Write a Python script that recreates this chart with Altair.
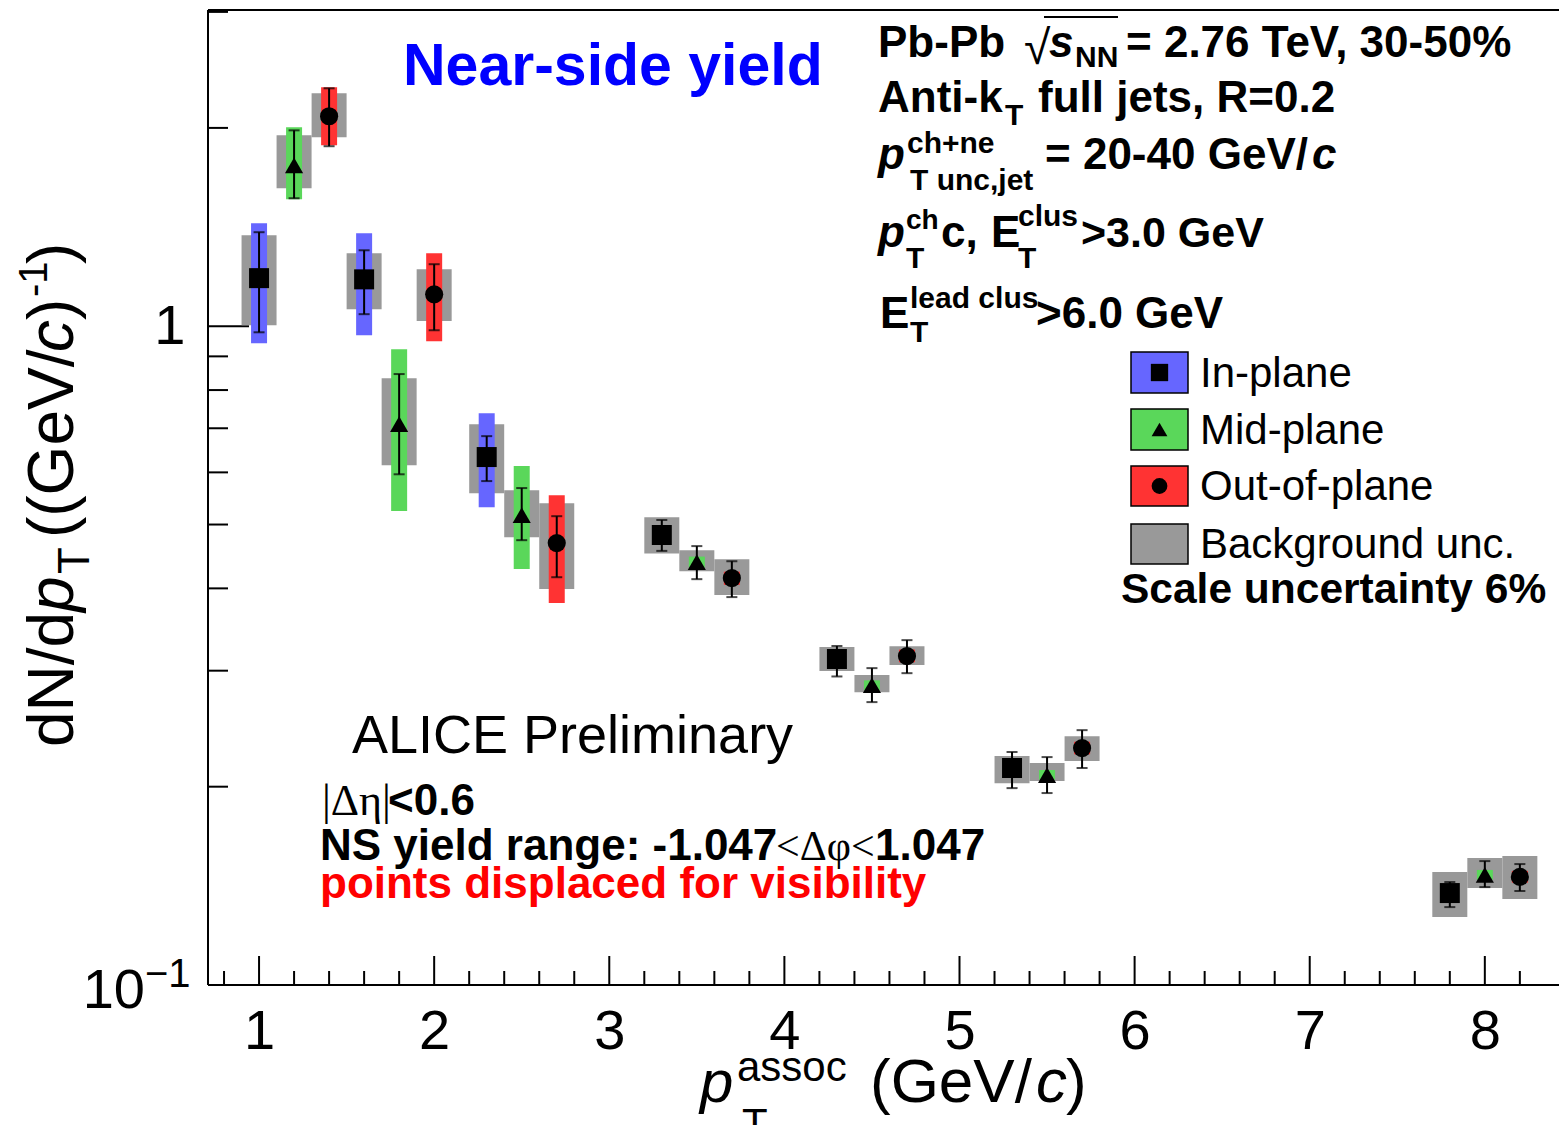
import altair as alt
import pandas as pd

# ---------------- data ----------------
series = ["In-plane", "Mid-plane", "Out-of-plane"]
series_colors = ["#6666ff", "#5ad75a", "#ff3333"]
series_shapes = ["square", "triangle-up", "circle"]
series_sizes = [400, 330, 330]
bkg_color = "#999999"

x_in = [1.0, 1.6, 2.3, 3.3, 4.3, 5.3, 7.8]
y_in = [1.183, 1.178, 0.633, 0.482, 0.3125, 0.2135, 0.1379]
stat_lo_in = [0.979, 1.043, 0.582, 0.456, 0.294, 0.199, 0.1313]
stat_hi_in = [1.389, 1.304, 0.681, 0.508, 0.327, 0.2258, 0.1433]
sys_lo_in = [0.942, 0.969, 0.531, 0.474, 0.308, 0.210, 0.136]
sys_hi_in = [1.433, 1.384, 0.738, 0.490, 0.317, 0.217, 0.140]
bkg_lo_in = [1.003, 1.061, 0.558, 0.452, 0.2996, 0.2025, 0.1268]
bkg_hi_in = [1.374, 1.290, 0.710, 0.513, 0.326, 0.2227, 0.1484]

x_mid = [1.2, 1.8, 2.5, 3.5, 4.5, 5.5, 8.0]
y_mid = [1.755, 0.710, 0.5166, 0.4384, 0.2851, 0.2083, 0.1469]
stat_lo_mid = [1.564, 0.596, 0.4734, 0.4131, 0.2688, 0.1956, 0.1408]
stat_hi_mid = [1.983, 0.846, 0.568, 0.4637, 0.3027, 0.2218, 0.1542]
sys_lo_mid = [1.559, 0.524, 0.4279, 0.430, 0.280, 0.205, 0.1445]
sys_hi_mid = [2.004, 0.923, 0.6133, 0.447, 0.290, 0.212, 0.1495]
bkg_lo_mid = [1.620, 0.615, 0.4784, 0.4248, 0.2783, 0.2040, 0.1404]
bkg_hi_mid = [1.949, 0.834, 0.5638, 0.4572, 0.2954, 0.2172, 0.1559]

x_out = [1.4, 2.0, 2.7, 3.7, 4.7, 5.7, 8.2]
y_out = [2.083, 1.118, 0.4686, 0.4146, 0.3157, 0.2289, 0.1459]
stat_lo_out = [1.876, 0.986, 0.4159, 0.3880, 0.2974, 0.2135, 0.1389]
stat_hi_out = [2.297, 1.242, 0.5148, 0.4398, 0.3338, 0.2437, 0.1526]
sys_lo_out = [1.883, 0.949, 0.3800, 0.405, 0.309, 0.224, 0.143]
sys_hi_out = [2.305, 1.290, 0.5541, 0.424, 0.323, 0.234, 0.149]
bkg_lo_out = [1.936, 1.018, 0.3990, 0.3907, 0.3059, 0.2188, 0.1351]
bkg_hi_out = [2.257, 1.220, 0.5387, 0.4429, 0.3268, 0.2385, 0.1570]

x_tick_labels = [1, 2, 3, 4, 5, 6, 7, 8]
x_minor_ticks = [0.8, 1.2, 1.4, 1.6, 1.8, 2.2, 2.4, 2.6, 2.8, 3.2, 3.4, 3.6, 3.8,
                 4.2, 4.4, 4.6, 4.8, 5.2, 5.4, 5.6, 5.8, 6.2, 6.4, 6.6, 6.8,
                 7.2, 7.4, 7.6, 7.8, 8.2]
y_major_ticks = [1.0]
y_minor_ticks = [0.2, 0.3, 0.4, 0.5, 0.6, 0.7, 0.8, 0.9, 2.0, 3.0]

frames = []
for name, xs_, ys_, sl, sh, yl, yh, bl, bh in [
    ("In-plane", x_in, y_in, stat_lo_in, stat_hi_in, sys_lo_in, sys_hi_in, bkg_lo_in, bkg_hi_in),
    ("Mid-plane", x_mid, y_mid, stat_lo_mid, stat_hi_mid, sys_lo_mid, sys_hi_mid, bkg_lo_mid, bkg_hi_mid),
    ("Out-of-plane", x_out, y_out, stat_lo_out, stat_hi_out, sys_lo_out, sys_hi_out, bkg_lo_out, bkg_hi_out),
]:
    frames.append(pd.DataFrame({"series": name, "x": xs_, "y": ys_, "stat_lo": sl, "stat_hi": sh,
                                "sys_lo": yl, "sys_hi": yh, "bkg_lo": bl, "bkg_hi": bh}))
df = pd.concat(frames, ignore_index=True)

# ---------------- scales / axes ----------------
W, H = 1351, 975
FONT = "Liberation Sans"
SERIF = "Liberation Serif"
xscale = alt.Scale(domain=[0.737, 8.395], nice=False, zero=False)
yscale = alt.Scale(type="log", domain=[0.1, 3.02], nice=False)
xaxis = alt.Axis(values=x_tick_labels, ticks=False, domain=False, grid=False, title=None,
                 labelFont=FONT, labelFontSize=56, labelPadding=19, labelColor="black", format="d")
yaxis = alt.Axis(values=[1.0], labelExpr="'1'", ticks=False, domain=False, grid=False, title=None,
                 labelFont=FONT, labelFontSize=56, labelPadding=23, labelColor="black")


def X(f):
    return alt.X(f, type="quantitative", scale=xscale, axis=xaxis)


def Y(f):
    return alt.Y(f, type="quantitative", scale=yscale, axis=yaxis)


def txt(s, x, y, size, weight="normal", style="normal", color="black", font=FONT, angle=0, align="left"):
    return alt.Chart(pd.DataFrame({"t": [s]})).mark_text(
        align=align, baseline="alphabetic", fontSize=size, fontWeight=weight, fontStyle=style,
        color=color, font=font, angle=angle
    ).encode(text="t:N", x=alt.value(x), y=alt.value(y))


def hline(x1, x2, y, width=2, color="black"):
    return alt.Chart(pd.DataFrame({"a": [0]})).mark_rule(color=color, strokeWidth=width).encode(
        x=alt.value(x1), x2=alt.value(x2), y=alt.value(y))


def vline(x, y1, y2, width=2, color="black"):
    return alt.Chart(pd.DataFrame({"a": [0]})).mark_rule(color=color, strokeWidth=width).encode(
        x=alt.value(x), y=alt.value(y1), y2=alt.value(y2))


layers = []

# axis ticks (drawn inward, ROOT style)
layers.append(alt.Chart(pd.DataFrame({"v": y_major_ticks})).mark_rule(color="black", strokeWidth=2)
              .encode(y=Y("v"), x=alt.value(0), x2=alt.value(41)))
layers.append(alt.Chart(pd.DataFrame({"v": y_minor_ticks})).mark_rule(color="black", strokeWidth=2)
              .encode(y=Y("v"), x=alt.value(0), x2=alt.value(20)))
layers.append(alt.Chart(pd.DataFrame({"v": x_tick_labels})).mark_rule(color="black", strokeWidth=2)
              .encode(x=X("v"), y=alt.value(H), y2=alt.value(H - 29)))
layers.append(alt.Chart(pd.DataFrame({"v": x_minor_ticks})).mark_rule(color="black", strokeWidth=2)
              .encode(x=X("v"), y=alt.value(H), y2=alt.value(H - 14)))

base = alt.Chart(df)
# background uncertainty boxes
layers.append(base.mark_bar(width=35, color=bkg_color).encode(x=X("x"), y=Y("bkg_lo"), y2="bkg_hi"))
# systematic boxes per series
for name, col in zip(series, series_colors):
    layers.append(base.transform_filter(alt.datum.series == name)
                  .mark_bar(width=16, color=col).encode(x=X("x"), y=Y("sys_lo"), y2="sys_hi"))
# statistical error bars
layers.append(base.mark_rule(color="black", strokeWidth=2).encode(x=X("x"), y=Y("stat_lo"), y2="stat_hi"))
layers.append(base.mark_tick(color="black", thickness=2, size=11, orient="horizontal")
              .encode(x=X("x"), y=Y("stat_lo")))
layers.append(base.mark_tick(color="black", thickness=2, size=11, orient="horizontal")
              .encode(x=X("x"), y=Y("stat_hi")))
# markers
for name, shp, sz in zip(series, series_shapes, series_sizes):
    layers.append(base.transform_filter(alt.datum.series == name)
                  .mark_point(shape=shp, size=sz, filled=True, color="black", opacity=1)
                  .encode(x=X("x"), y=Y("y")))

# frame (left, top, bottom; right edge lies beyond the picture)
layers += [vline(0, 0, H), hline(0, W, 0), hline(0, W, H)]

# ---------------- axis titles & tick label exponent ----------------
layers += [
    txt("10", -63, 998, 56, align="right"),
    txt("\u22121", -63, 977, 40),
    # x title
    txt("p", 492, 1092, 60, style="italic"),
    txt("assoc", 529, 1071, 42),
    txt("T", 534, 1128, 42),
    txt("(GeV/", 662, 1092, 62),
    txt("c", 828, 1092, 62, style="italic"),
    txt(")", 858, 1092, 62),
    # y title (rotated)
    txt("dN/d", -135, 737, 64, angle=270),
    txt("p", -135, 602, 64, style="italic", angle=270),
    txt("T", -119, 564, 44, angle=270),
    txt("((GeV/", -135, 528, 64, angle=270),
    txt("c", -135, 342, 64, style="italic", angle=270),
    txt(")", -135, 310, 64, angle=270),
    txt("-1", -161, 287, 40, angle=270),
    txt(")", -135, 254, 64, angle=270),
]

# ---------------- annotations ----------------
B = "bold"
layers += [
    txt("Near-side yield", 195, 75, 59, weight=B, color="#0000ff"),
    # line 1
    txt("Pb-Pb", 670, 47, 44, weight=B),
    txt("\u221a", 816, 54, 48),
    hline(836, 910, 7),
    txt("s", 841, 47, 44, weight=B, style="italic"),
    txt("NN", 867, 57, 30, weight=B),
    txt("= 2.76 TeV, 30-50%", 918, 47, 44, weight=B),
    # line 2
    txt("Anti-k", 670, 102, 44, weight=B),
    txt("T", 797, 115, 30, weight=B),
    txt("full jets, R=0.2", 830, 102, 44, weight=B),
    # line 3
    txt("p", 670, 159, 44, weight=B, style="italic"),
    txt("ch+ne", 699, 143, 30, weight=B),
    txt("T unc,jet", 702, 180, 30, weight=B),
    txt("= 20-40 GeV/", 837, 159, 44, weight=B),
    txt("c", 1104, 159, 44, weight=B, style="italic"),
    # line 4
    txt("p", 670, 237, 44, weight=B, style="italic"),
    txt("ch", 698, 219, 28, weight=B),
    txt("T", 698, 258, 30, weight=B),
    txt("c,", 733, 237, 44, weight=B),
    txt("E", 783, 237, 44, weight=B),
    txt("clus", 810, 216, 30, weight=B),
    txt("T", 810, 258, 30, weight=B),
    txt(">3.0 GeV", 873, 237, 43, weight=B),
    # line 5
    txt("E", 672, 318, 44, weight=B),
    txt("lead clus", 702, 298, 30, weight=B),
    txt("T", 702, 332, 30, weight=B),
    txt(">6.0 GeV", 828, 318, 44, weight=B),
    # lower left
    txt("ALICE Preliminary", 144, 743, 54),
    txt("|\u0394\u03b7|", 114, 805, 44, font=SERIF),
    txt("<0.6", 180, 805, 44, weight=B),
    txt("NS yield range: -1.047", 112, 850, 44, weight=B),
    txt("<\u0394\u03c6<", 568, 850, 42, font=SERIF),
    txt("1.047", 667, 850, 44, weight=B),
    txt("points displaced for visibility", 112, 888, 44, weight=B, color="#ff0000"),
]

# ---------------- manual legend ----------------
leg_fill = series_colors + [bkg_color]
leg_labels = series + ["Background unc."]
leg_top = [342, 399, 456, 514]
leg_bot = [383, 440, 496, 554]
for i in range(4):
    layers.append(alt.Chart(pd.DataFrame({"a": [0]})).mark_rect(
        color=leg_fill[i], stroke="black", strokeWidth=1.5)
        .encode(x=alt.value(923), x2=alt.value(980), y=alt.value(leg_top[i]), y2=alt.value(leg_bot[i])))
    if i < 3:
        layers.append(alt.Chart(pd.DataFrame({"a": [0]})).mark_point(
            shape=series_shapes[i], size=[300, 250, 250][i], filled=True, color="black", opacity=1)
            .encode(x=alt.value(951.5), y=alt.value((leg_top[i] + leg_bot[i]) / 2)))
    layers.append(txt(leg_labels[i], 992, (leg_top[i] + leg_bot[i]) / 2 + 14, 42))
layers.append(txt("Scale uncertainty 6%", 913, 593, 42.5, weight=B))

chart = alt.layer(*layers).properties(
    width=W, height=H,
    autosize=alt.AutoSizeParams(type="none"),
    padding={"left": 200, "top": 2, "right": 0, "bottom": 140},
    background="white",
).configure_view(stroke=None)

chart.save("out.html", embed_options={"renderer": "svg", "actions": False})
